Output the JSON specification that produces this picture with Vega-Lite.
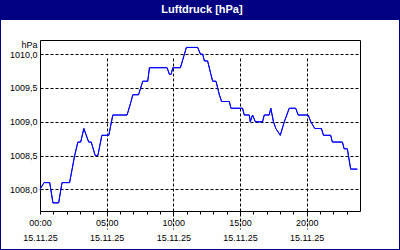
{
  "$schema": "https://vega.github.io/schema/vega-lite/v6.json",
  "width": 398,
  "height": 229,
  "autosize": {"type": "none"},
  "padding": {"top": 20, "left": 1, "right": 1, "bottom": 1},
  "background": "#000080",
  "view": {"fill": "white", "stroke": null},
  "title": {
    "text": "Luftdruck [hPa]",
    "color": "white",
    "font": "Liberation Sans",
    "fontSize": 11,
    "fontWeight": "bold",
    "anchor": "middle",
    "frame": "group",
    "baseline": "middle",
    "offset": -1,
    "dx": 2
  },
  "data": {
    "values": [
      {"h": 0, "p": 1008.0}, {"h": 0.3, "p": 1008.1}, {"h": 0.73, "p": 1008.1}, {"h": 0.97, "p": 1007.8},
      {"h": 1.4, "p": 1007.8}, {"h": 1.65, "p": 1008.1}, {"h": 2.22, "p": 1008.1}, {"h": 2.6, "p": 1008.5},
      {"h": 2.84, "p": 1008.7}, {"h": 3.05, "p": 1008.7}, {"h": 3.29, "p": 1008.9}, {"h": 3.65, "p": 1008.7},
      {"h": 3.84, "p": 1008.7}, {"h": 4.14, "p": 1008.5}, {"h": 4.34, "p": 1008.5}, {"h": 4.64, "p": 1008.8},
      {"h": 5.16, "p": 1008.8}, {"h": 5.46, "p": 1009.1}, {"h": 6.53, "p": 1009.1}, {"h": 6.83, "p": 1009.3},
      {"h": 6.96, "p": 1009.4}, {"h": 7.39, "p": 1009.4}, {"h": 7.71, "p": 1009.6}, {"h": 8.08, "p": 1009.6},
      {"h": 8.21, "p": 1009.8}, {"h": 9.53, "p": 1009.8}, {"h": 9.71, "p": 1009.7}, {"h": 9.83, "p": 1009.7},
      {"h": 9.96, "p": 1009.8}, {"h": 10.53, "p": 1009.8}, {"h": 10.83, "p": 1010.0}, {"h": 10.98, "p": 1010.1},
      {"h": 11.83, "p": 1010.1}, {"h": 12.03, "p": 1010.0}, {"h": 12.2, "p": 1010.0}, {"h": 12.33, "p": 1009.9},
      {"h": 12.57, "p": 1009.9}, {"h": 12.82, "p": 1009.7}, {"h": 12.95, "p": 1009.6}, {"h": 13.2, "p": 1009.6},
      {"h": 13.45, "p": 1009.4}, {"h": 13.62, "p": 1009.3}, {"h": 14.2, "p": 1009.3}, {"h": 14.32, "p": 1009.2},
      {"h": 15.19, "p": 1009.2}, {"h": 15.32, "p": 1009.1}, {"h": 15.7, "p": 1009.1}, {"h": 15.77, "p": 1009.0},
      {"h": 15.94, "p": 1009.1}, {"h": 16.15, "p": 1009.0}, {"h": 16.69, "p": 1009.0}, {"h": 16.82, "p": 1009.1},
      {"h": 17.19, "p": 1009.1}, {"h": 17.31, "p": 1009.2}, {"h": 17.51, "p": 1009.0}, {"h": 17.69, "p": 1008.9},
      {"h": 18.02, "p": 1008.8}, {"h": 18.32, "p": 1009.0}, {"h": 18.51, "p": 1009.1}, {"h": 18.69, "p": 1009.2},
      {"h": 19.18, "p": 1009.2}, {"h": 19.36, "p": 1009.1}, {"h": 20.11, "p": 1009.1}, {"h": 20.31, "p": 1009.0},
      {"h": 20.61, "p": 1008.9}, {"h": 21.11, "p": 1008.9}, {"h": 21.26, "p": 1008.8}, {"h": 21.8, "p": 1008.8},
      {"h": 21.93, "p": 1008.7}, {"h": 22.68, "p": 1008.7}, {"h": 22.81, "p": 1008.6}, {"h": 23.05, "p": 1008.6},
      {"h": 23.3, "p": 1008.3}, {"h": 23.8, "p": 1008.3}
    ]
  },
  "layer": [
    {
      "mark": {"type": "line", "color": "#0000ff", "strokeWidth": 1},
      "encoding": {
        "x": {
          "field": "h", "type": "quantitative",
          "scale": {"domain": [0, 24], "range": [39, 359], "nice": false, "zero": false},
          "axis": {
            "orient": "bottom",
            "offset": -38,
            "title": null,
            "values": [0,1,2,3,4,5,6,7,8,9,10,11,12,13,14,15,16,17,18,19,20,21,22,23],
            "labelExpr": "datum.value % 5 === 0 ? [(datum.value < 10 ? '0' : '') + datum.value + ':00', '15.11.25'] : ''",
            "labelOverlap": false,
            "labelFlush": false,
            "labelFont": "Liberation Sans",
            "labelFontSize": 9,
            "labelColor": "#000000",
            "labelLineHeight": 15,
            "labelPadding": 4,
            "tickSize": 3,
            "tickColor": "#000000",
            "domainColor": "#000000",
            "grid": true,
            "gridColor": "#000000",
            "gridDash": [3, 2],
            "gridOpacity": {"condition": {"test": "datum.value % 5 === 0 && datum.value > 0", "value": 1}, "value": 0}
          }
        },
        "y": {
          "field": "p", "type": "quantitative",
          "scale": {"domain": [1007.68, 1010.21], "range": [191, 20], "nice": false, "zero": false},
          "axis": {
            "orient": "left",
            "offset": -39,
            "values": [1008, 1008.5, 1009, 1009.5, 1010],
            "labelExpr": "replace(format(datum.value, '.1f'), '.', ',')",
            "labelFont": "Liberation Sans",
            "labelFontSize": 9,
            "labelColor": "#000000",
            "labelPadding": 3,
            "ticks": false,
            "domainColor": "#000000",
            "grid": true,
            "gridColor": "#000000",
            "gridDash": [3, 2],
            "title": "hPa",
            "titleAngle": 0,
            "titleX": -3,
            "titleY": 24,
            "titleAlign": "right",
            "titleBaseline": "middle",
            "titleFont": "Liberation Sans",
            "titleFontSize": 9,
            "titleFontWeight": "normal",
            "titleColor": "#000000"
          }
        }
      }
    },
    {
      "mark": {"type": "line", "color": "#0000ff", "strokeWidth": 1},
      "encoding": {
        "x": {
          "field": "h", "type": "quantitative",
          "axis": {"orient": "top", "offset": -20, "title": null, "labels": false, "ticks": false, "grid": false, "domainColor": "#000000"}
        },
        "y": {
          "field": "p", "type": "quantitative",
          "axis": {"orient": "right", "offset": -39, "title": null, "labels": false, "ticks": false, "grid": false, "domainColor": "#000000"}
        }
      }
    }
  ],
  "resolve": {"axis": {"x": "independent", "y": "independent"}}
}
